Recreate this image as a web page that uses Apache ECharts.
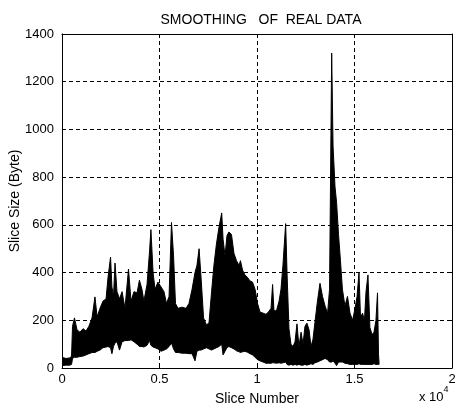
<!DOCTYPE html>
<html>
<head>
<meta charset="utf-8">
<script src="https://cdn.jsdelivr.net/npm/echarts@6/dist/echarts.min.js"></script>
<style>
  html, body { margin: 0; padding: 0; background: #fff; }
  #chart { width: 455px; height: 411px; }
</style>
</head>
<body>
<div id="chart"></div>
<script>
// Slice positions where the trace envelope was sampled
const slices = [
  0, 200, 400, 490, 540, 640, 770, 920, 1080, 1230, 1380, 1540, 1690, 1800, 1950,
  2100, 2260, 2360, 2490, 2560, 2640, 2720, 2820, 2950, 3080, 3230, 3410, 3540, 3690,
  3850, 3970, 4100, 4200, 4360, 4490, 4560, 4670, 4770, 4920, 5080, 5230, 5360, 5490,
  5615, 5720, 5820, 5950, 6150, 6360, 6510, 6670, 6820, 6920, 7030, 7130, 7260, 7410,
  7540, 7670, 7790, 7920, 8050, 8190, 8260, 8360, 8460, 8560, 8690, 8820, 8950, 9080,
  9150, 9260, 9380, 9510, 9640, 9770, 9900, 10030, 10150, 10310, 10460, 10590, 10720,
  10800, 10870, 11000, 11130, 11230, 11330, 11470, 11540, 11640, 11740, 11850, 11950,
  12050, 12150, 12260, 12360, 12460, 12560, 12670, 12770, 12870, 12970, 13100, 13230,
  13360, 13490, 13620, 13720, 13830, 13900, 14000, 14080, 14180, 14280, 14380, 14510,
  14640, 14770, 14900, 15030, 15130, 15230, 15310, 15410, 15510, 15590, 15690, 15790,
  15900, 16000, 16100, 16180, 16230, 16260
];

// Peak slice size (bytes) around each sampled slice
const upper = [
  45, 40, 42, 50, 175, 210, 160, 150, 165, 155, 175, 210, 298, 215, 250,
  280, 290, 380, 465, 340, 300, 440, 320, 290, 320, 250, 415, 280, 320,
  315, 368, 330, 280, 350, 490, 580, 400, 330, 360, 340, 320, 270, 300,
  610, 470, 270, 250, 255, 250, 270, 330, 400, 430, 500, 380, 210, 180,
  190, 320, 430, 520, 590, 650, 540, 470, 555, 570, 560, 480, 450, 430,
  450, 410, 390, 380, 365, 360, 330, 270, 235, 230, 225, 235, 250,
  350, 240, 240, 280, 330, 430, 605, 400, 165, 100, 90, 110,
  185, 90, 150, 100, 175, 188, 160, 90, 120, 190, 280, 355,
  300, 260, 230, 330, 1320, 930, 760, 695, 560, 450, 330, 260,
  300, 230, 200, 250, 300, 400, 210, 230, 200, 320, 390, 170,
  140, 150, 200, 315, 60, 20
];

// Trough slice size (bytes) around each sampled slice
const lower = [
  10, 12, 12, 15, 40, 45, 45, 48, 50, 55, 60, 65, 65, 70, 75,
  85, 88, 90, 85, 60, 90, 105, 110, 75, 110, 115, 115, 118, 110,
  100, 90, 90, 88, 95, 115, 95, 88, 85, 80, 70, 75, 80, 90,
  105, 80, 65, 65, 62, 62, 60, 60, 30, 70, 75, 75, 80, 85,
  80, 75, 80, 85, 90, 100, 55, 70, 85, 90, 85, 80, 72, 68,
  65, 68, 70, 66, 60, 55, 45, 35, 30, 25, 20, 20, 20,
  22, 22, 20, 22, 20, 22, 25, 15, 12, 15, 12, 15,
  12, 15, 12, 12, 15, 12, 15, 18, 15, 22, 25, 30,
  35, 40, 35, 25, 25, 30, 20, 10, 25, 25, 25, 20,
  18, 15, 15, 15, 15, 18, 15, 15, 15, 15, 15, 15,
  15, 18, 15, 15, 15, 15
];

// Axis tick values (slice numbers are shown in units of 10^4)
const xTicks = [0, 5000, 10000, 15000, 20000];
const yTicks = [0, 200, 400, 600, 800, 1000, 1200, 1400];

const envelope = slices.map((s, i) => [s, lower[i], upper[i]]);

const font = 'Liberation Sans, Arial, sans-serif';
const gridLine = { show: true, lineStyle: { color: '#000', type: [4, 3], width: 1 } };

// The trace is drawn as one filled band: along the peaks, then back along the troughs
function renderEnvelope(params, api) {
  if (params.dataIndex !== 0) return null;
  const pts = [];
  for (let i = 0; i < envelope.length; i++) pts.push(api.coord([envelope[i][0], envelope[i][2]]));
  for (let i = envelope.length - 1; i >= 0; i--) pts.push(api.coord([envelope[i][0], envelope[i][1]]));
  return {
    type: 'polygon',
    shape: { points: pts },
    style: { fill: '#000', stroke: '#000', lineWidth: 1, lineJoin: 'miter' }
  };
}

const chart = echarts.init(document.getElementById('chart'), null, { renderer: 'canvas' });
chart.setOption({
  animation: false,
  backgroundColor: '#fff',
  title: {
    text: 'SMOOTHING   OF  REAL DATA',
    left: 256, top: 8, textAlign: 'center',
    textStyle: { fontFamily: font, fontSize: 14, fontWeight: 'normal', color: '#000' }
  },
  grid: { left: 62, right: 3, top: 34, bottom: 43, containLabel: false, outerBoundsMode: 'none' },
  xAxis: [{
    type: 'value', min: xTicks[0], max: xTicks[xTicks.length - 1], interval: 5000,
    name: 'Slice Number', nameLocation: 'middle', nameGap: 24,
    nameTextStyle: { fontFamily: font, fontSize: 14, color: '#000' },
    axisLine: { show: true, lineStyle: { color: '#000', width: 1 } },
    axisTick: { show: true, inside: true, length: 4, lineStyle: { color: '#000' } },
    axisLabel: {
      fontFamily: font, fontSize: 13, color: '#000', margin: 5,
      formatter: v => String(v / 10000)
    },
    splitLine: gridLine
  }, {
    type: 'value', position: 'top', min: xTicks[0], max: xTicks[xTicks.length - 1], interval: 5000,
    axisLine: { show: true, onZero: false, lineStyle: { color: '#000', width: 1 } },
    axisTick: { show: true, inside: true, length: 4, lineStyle: { color: '#000' } },
    axisLabel: { show: false }, splitLine: { show: false }
  }],
  yAxis: [{
    type: 'value', min: yTicks[0], max: yTicks[yTicks.length - 1], interval: 200,
    axisLine: { show: true, lineStyle: { color: '#000', width: 1 } },
    axisTick: { show: true, inside: true, length: 4, lineStyle: { color: '#000' } },
    axisLabel: { fontFamily: font, fontSize: 13, color: '#000', margin: 8, formatter: v => String(v) },
    splitLine: gridLine
  }, {
    type: 'value', position: 'right', min: yTicks[0], max: yTicks[yTicks.length - 1], interval: 200,
    axisLine: { show: true, onZero: false, lineStyle: { color: '#000', width: 1 } },
    axisTick: { show: true, inside: true, length: 4, lineStyle: { color: '#000' } },
    axisLabel: { show: false }, splitLine: { show: false }
  }],
  graphic: [{
    // y-axis title, rotated to read upwards
    type: 'text', x: 15, y: 201, rotation: Math.PI / 2,
    style: {
      text: 'Slice Size (Byte)', fontFamily: font, fontSize: 14, fill: '#000',
      align: 'center', verticalAlign: 'middle'
    }
  }, {
    type: 'text', left: 419, top: 385,
    style: {
      text: '{b|x 10}{s|4}',
      rich: {
        b: { fontFamily: font, fontSize: 13, fill: '#000', padding: [6, 0, 0, 0] },
        s: { fontFamily: font, fontSize: 9, fill: '#000', verticalAlign: 'top' }
      }
    }
  }],
  series: [{
    name: 'slice size', type: 'custom',
    renderItem: renderEnvelope,
    encode: { x: 0, y: [1, 2] },
    data: envelope,
    clip: true
  }]
});
</script>
</body>
</html>
